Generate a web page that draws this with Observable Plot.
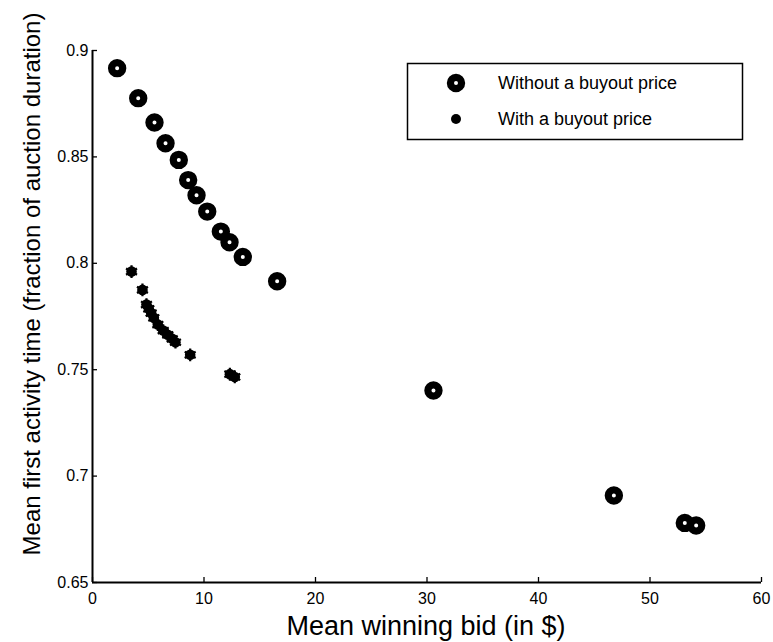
<!DOCTYPE html>
<html>
<head>
<meta charset="utf-8">
<script src="https://cdn.jsdelivr.net/npm/d3@7"></script>
<script src="https://cdn.jsdelivr.net/npm/@observablehq/plot@0.6"></script>
<style>
  html, body { margin: 0; padding: 0; background: #fff; }
  #chart { position: relative; width: 773px; height: 642px; }
  svg { font-family: "Liberation Sans", Arial, Helvetica, sans-serif; }
</style>
</head>
<body>
<div id="chart"></div>
<script>
// Series: without a buyout price
const noBuyoutBid = [2.21, 4.10, 5.56, 6.55, 7.74, 8.58, 9.33, 10.29, 11.51, 12.29, 13.48, 16.56, 30.58, 46.76, 53.12, 54.14];
const noBuyoutTime = [0.8917, 0.8776, 0.8662, 0.8564, 0.8486, 0.8391, 0.8320, 0.8243, 0.8149, 0.8099, 0.8030, 0.7916, 0.7402, 0.6909, 0.6780, 0.6768];
// Series: with a buyout price
const buyoutBid = [3.50, 4.48, 4.84, 5.05, 5.26, 5.50, 5.86, 6.34, 6.75, 7.15, 7.44, 8.76, 12.32, 12.76];
const buyoutTime = [0.7961, 0.7875, 0.7806, 0.7786, 0.7766, 0.7744, 0.7712, 0.7684, 0.7664, 0.7645, 0.7629, 0.7570, 0.7479, 0.7466];
// Axis ticks
const xTicks = [0, 10, 20, 30, 40, 50, 60];
const yTicks = [0.65, 0.7, 0.75, 0.8, 0.85, 0.9];
const yTickLabels = ["0.65", "0.7", "0.75", "0.8", "0.85", "0.9"];
const seriesNames = ["Without a buyout price", "With a buyout price"];

const noBuyout = noBuyoutBid.map((x, i) => ({x, y: noBuyoutTime[i]}));
const buyout = buyoutBid.map((x, i) => ({x, y: buyoutTime[i]}));

const W = 773, H = 642;
const mL = 92, mR = 12, mT = 50, mB = 60;
const pxX = 60 / (W - mL - mR);   // data units per pixel
const pxY = 0.25 / (H - mT - mB);
const tickLen = 5;
const tickFont = 16;

const plot = Plot.plot({
  width: W,
  height: H,
  marginLeft: mL,
  marginRight: mR,
  marginTop: mT,
  marginBottom: mB,
  style: {fontFamily: "Liberation Sans, Arial, Helvetica, sans-serif", background: "#fff", color: "#000"},
  x: {domain: [0, 60], axis: null},
  y: {domain: [0.65, 0.9], axis: null},
  marks: [
    // tick labels
    Plot.text(xTicks, {x: d => d, y: 0.65, text: d => String(d), lineAnchor: "top", dy: 10,
      fontSize: tickFont, fill: "#000"}),
    Plot.text(yTicks, {x: 0, y: d => d, text: (d, i) => yTickLabels[i], textAnchor: "end", dx: -4,
      fontSize: tickFont, fill: "#000"}),
    // inward ticks
    Plot.ruleX(xTicks, {x: d => d, y1: 0.65, y2: 0.65 + tickLen * pxY, stroke: "#000", strokeWidth: 1.3}),
    Plot.ruleY(yTicks, {y: d => d, x1: 0, x2: tickLen * pxX, stroke: "#000", strokeWidth: 1.3}),
    // axis lines
    Plot.ruleY([0.65], {stroke: "#000", strokeWidth: 2}),
    Plot.ruleX([0], {stroke: "#000", strokeWidth: 2}),
    // data
    Plot.dot(noBuyout, {x: "x", y: "y", r: 5.6, stroke: "#000", strokeWidth: 7.2, fill: "#fff"}),
    Plot.dot(buyout, {x: "x", y: "y", r: 5.3, fill: "#000", stroke: "none"}),
    Plot.dot(buyout, {x: "x", y: "y", r: 6, symbol: "asterisk", stroke: "#000", strokeWidth: 2.2})
  ]
});

document.getElementById("chart").appendChild(plot);

const svg = d3.select(plot);

// Axis titles and legend (layout in pixels)
svg.append("text")
  .attr("x", 426)
  .attr("y", 635)
  .attr("text-anchor", "middle")
  .style("font-size", "27px")
  .attr("fill", "#000")
  .text("Mean winning bid (in $)");
svg.append("text")
  .attr("transform", `translate(40, 284) rotate(-90)`)
  .attr("text-anchor", "middle")
  .style("font-size", "24px")
  .attr("fill", "#000")
  .text("Mean first activity time (fraction of auction duration)");

const lg = svg.append("g");
lg.append("rect")
  .attr("x", 407.5).attr("y", 63.5).attr("width", 335).attr("height", 76)
  .attr("fill", "#fff").attr("stroke", "#000").attr("stroke-width", 1.5);
lg.append("circle").attr("cx", 456).attr("cy", 83).attr("r", 5.6)
  .attr("fill", "#fff").attr("stroke", "#000").attr("stroke-width", 7.2);
lg.append("circle").attr("cx", 456).attr("cy", 119).attr("r", 5)
  .attr("fill", "#000");
lg.append("text").attr("x", 498).attr("y", 89).attr("text-anchor", "start").style("font-size", "18px").attr("fill", "#000").text(seriesNames[0]);
lg.append("text").attr("x", 498).attr("y", 125).attr("text-anchor", "start").style("font-size", "18px").attr("fill", "#000").text(seriesNames[1]);
</script>
</body>
</html>
